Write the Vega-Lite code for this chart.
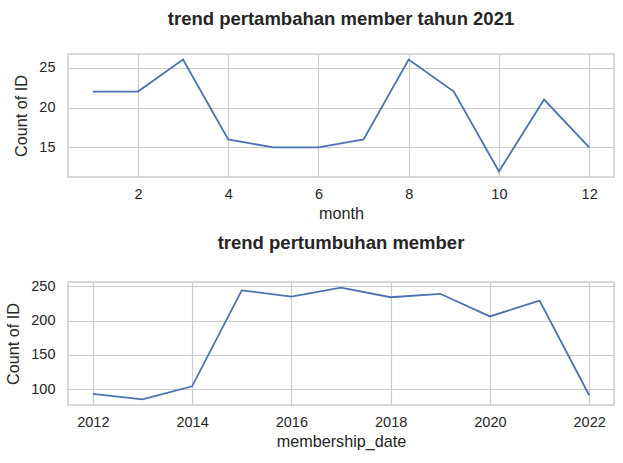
{
  "$schema": "https://vega.github.io/schema/vega-lite/v6.json",
  "description": "trend member",
  "padding": {"left": 5, "top": 8, "right": 8, "bottom": 4},
  "spacing": 10,
  "config": {
    "font": "Liberation Sans",
    "view": {"stroke": "#cccccc", "strokeWidth": 1.5},
    "axis": {
      "domain": false,
      "ticks": false,
      "grid": true,
      "gridColor": "#cccccc",
      "gridWidth": 1.2,
      "labelFont": "Liberation Sans",
      "labelFontSize": 14.5,
      "labelColor": "#262626",
      "titleFont": "Liberation Sans",
      "titleFontSize": 16.2,
      "titleFontWeight": "normal",
      "titleColor": "#262626"
    },
    "axisY": {"labelPadding": 13, "titlePadding": 9},
    "axisX": {"labelPadding": 10, "titlePadding": 5},
    "title": {
      "font": "Liberation Sans",
      "fontSize": 18.5,
      "fontWeight": "bold",
      "color": "#262626",
      "anchor": "middle",
      "frame": "group",
      "offset": 26
    }
  },
  "vconcat": [
    {
      "title": "trend pertambahan member tahun 2021",
      "width": 546,
      "height": 123,
      "data": {
        "values": [
          {"month": 1, "count": 22},
          {"month": 2, "count": 22},
          {"month": 3, "count": 26},
          {"month": 4, "count": 16},
          {"month": 5, "count": 15},
          {"month": 6, "count": 15},
          {"month": 7, "count": 16},
          {"month": 8, "count": 26},
          {"month": 9, "count": 22},
          {"month": 10, "count": 12},
          {"month": 11, "count": 21},
          {"month": 12, "count": 15}
        ]
      },
      "mark": {"type": "line", "color": "#4c72b0", "strokeWidth": 1.8},
      "encoding": {
        "x": {
          "field": "month",
          "type": "quantitative",
          "title": "month",
          "scale": {"domain": [0.45, 12.55], "nice": false, "zero": false},
          "axis": {"values": [2, 4, 6, 8, 10, 12]}
        },
        "y": {
          "field": "count",
          "type": "quantitative",
          "title": "Count of ID",
          "scale": {"domain": [11.3, 26.7], "nice": false, "zero": false},
          "axis": {"values": [15, 20, 25]}
        }
      }
    },
    {
      "title": "trend pertumbuhan member",
      "width": 546,
      "height": 123,
      "data": {
        "values": [
          {"membership_date": 2012, "count": 93},
          {"membership_date": 2013, "count": 85},
          {"membership_date": 2014, "count": 104},
          {"membership_date": 2015, "count": 244},
          {"membership_date": 2016, "count": 235},
          {"membership_date": 2017, "count": 248},
          {"membership_date": 2018, "count": 234},
          {"membership_date": 2019, "count": 239},
          {"membership_date": 2020, "count": 206},
          {"membership_date": 2021, "count": 229},
          {"membership_date": 2022, "count": 91}
        ]
      },
      "mark": {"type": "line", "color": "#4c72b0", "strokeWidth": 1.8},
      "encoding": {
        "x": {
          "field": "membership_date",
          "type": "quantitative",
          "title": "membership_date",
          "scale": {"domain": [2011.5, 2022.5], "nice": false, "zero": false},
          "axis": {"values": [2012, 2014, 2016, 2018, 2020, 2022], "format": "d"}
        },
        "y": {
          "field": "count",
          "type": "quantitative",
          "title": "Count of ID",
          "scale": {"domain": [76.8, 256.2], "nice": false, "zero": false},
          "axis": {"values": [100, 150, 200, 250]}
        }
      }
    }
  ]
}
